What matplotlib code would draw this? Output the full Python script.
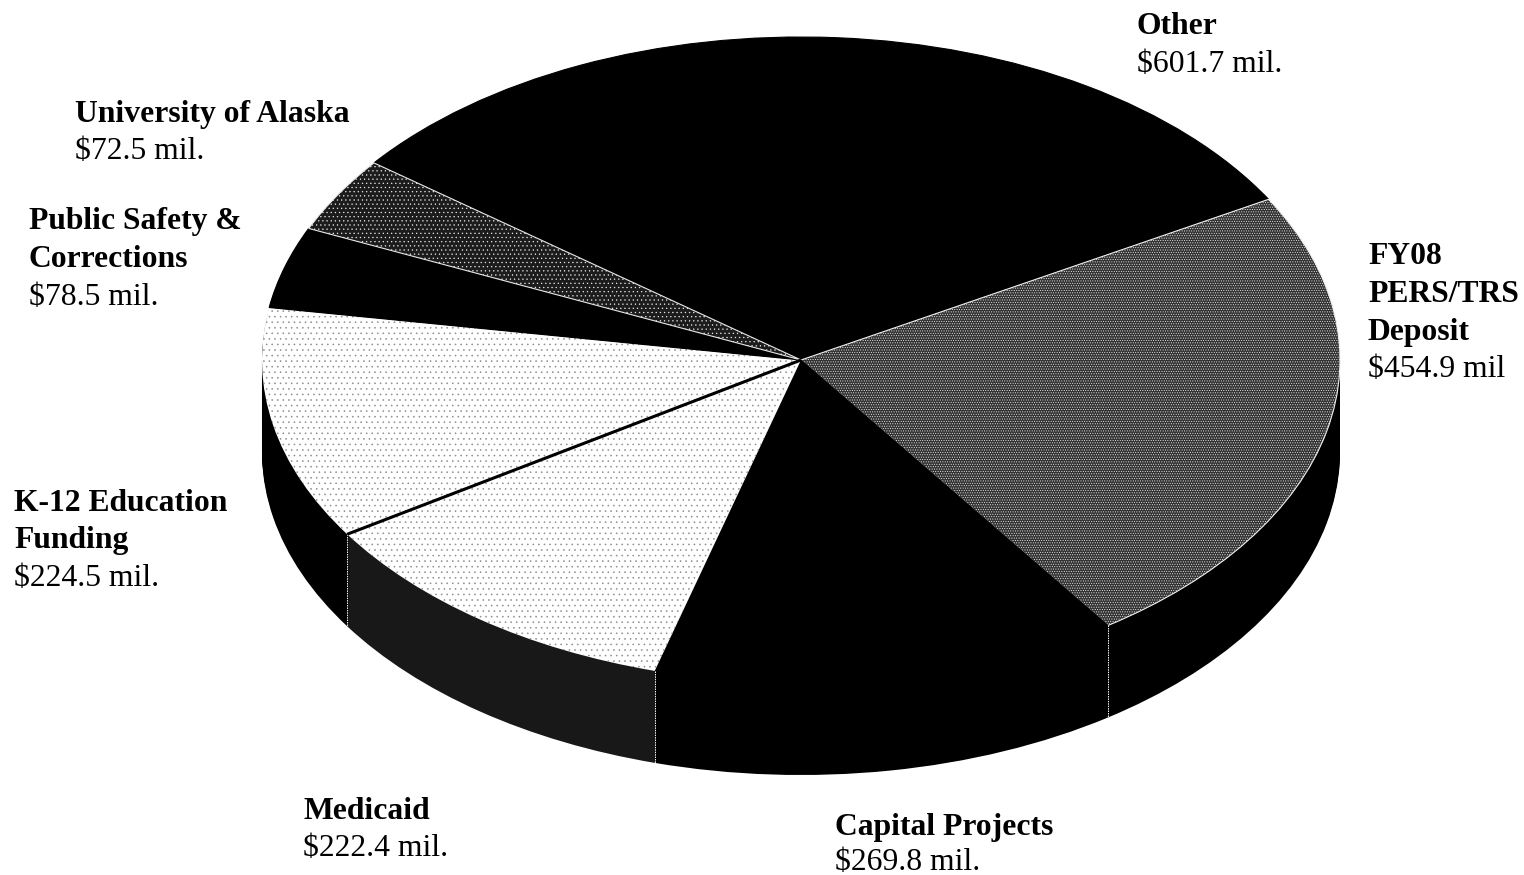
import numpy as np
import matplotlib
matplotlib.use('Agg')
import matplotlib.pyplot as plt

# Slices, clockwise from the top left edge of "Other"
names = ['Other', 'FY08 PERS/TRS Deposit', 'Capital Projects', 'Medicaid',
         'K-12 Education Funding', 'Public Safety & Corrections', 'University of Alaska']
values = [601.7, 454.9, 269.8, 222.4, 224.5, 78.5, 72.5]

top_faces = ['#000000', '#333333', '#000000', '#ffffff', '#ffffff', '#000000', '#1c1c1c']
top_edges = ['#000000', '#f0f0f0', '#000000', '#8c8c8c', '#8c8c8c', '#000000', '#e8e8e8']
top_hatch = [None, '.......', None, '...', '...', None, '....']
side_faces = ['#000000', '#000000', '#000000', '#181818', '#000000', '#000000', '#000000']

# label lines: (x, baseline y, text, bold) in image pixels
label_x = [1137, 75, 29, 1368, 14, 303, 835]
label_lines = [
    [(34, 'Other', True), (72, '$601.7 mil.', False)],
    [(122, 'University of Alaska', True), (159, '$72.5 mil.', False)],
    [(229, 'Public Safety &', True), (267, 'Corrections', True), (305, '$78.5 mil.', False)],
    [(264, 'FY08', True), (302, 'PERS/TRS', True), (340, 'Deposit', True), (377, '$454.9 mil', False)],
    [(511, 'K-12 Education', True), (548, 'Funding', True), (586, '$224.5 mil.', False)],
    [(819, 'Medicaid', True), (856, '$222.4 mil.', False)],
    [(835, 'Capital Projects', True), (870, '$269.8 mil.', False)],
]

W, H = 1524, 875
cx, cy, rx, ry = 801, 360, 539, 323
depth = 92 / ry
start = 142.4

plt.rcParams['font.family'] = ['Liberation Serif', 'DejaVu Serif']
plt.rcParams['hatch.linewidth'] = 0.4

fig = plt.figure(figsize=(W / 100, H / 100), dpi=100)
ax = fig.add_axes([0, 0, 1, 1])

# thickness of the disc: the same pie stacked from the bottom up
for off in np.linspace(depth, 0.005, 46):
    ax.pie(values, startangle=start, counterclock=False, colors=side_faces,
           center=(0, -off), radius=1, wedgeprops={'linewidth': 0})

# seams on the side
angles = start - np.cumsum(values) / np.sum(values) * 360
for a in angles[1:4]:
    x = np.cos(np.radians(a))
    y = np.sin(np.radians(a))
    ax.plot([x, x], [y, y - depth], color='white', lw=0.7, ls=(0, (1.5, 1)))

# top face
wedges, _ = ax.pie(values, startangle=start, counterclock=False, colors=top_faces,
                   center=(0, 0), radius=1)
for w, fc, ec, h in zip(wedges, top_faces, top_edges, top_hatch):
    w.set_facecolor(fc)
    w.set_edgecolor(ec)
    w.set_linewidth(0 if fc == '#ffffff' else 0.8)
    if h:
        w.set_hatch(h)

# dark line between Medicaid and K-12
a = np.radians(angles[3])
ax.plot([0, np.cos(a)], [0, np.sin(a)], color='black', lw=2.2, solid_capstyle='butt')

ax.set_aspect('auto')
ax.set_xlim(-cx / rx, (W - cx) / rx)
ax.set_ylim((cy - H) / ry, cy / ry)
ax.axis('off')

for x, lines in zip(label_x, label_lines):
    for y, txt, bold in lines:
        fig.text(x / W, 1 - y / H, txt, fontsize=22.8, va='baseline', ha='left',
                 fontweight='bold' if bold else 'normal', color='black')

fig.savefig('out.png', dpi=100, facecolor='white')
